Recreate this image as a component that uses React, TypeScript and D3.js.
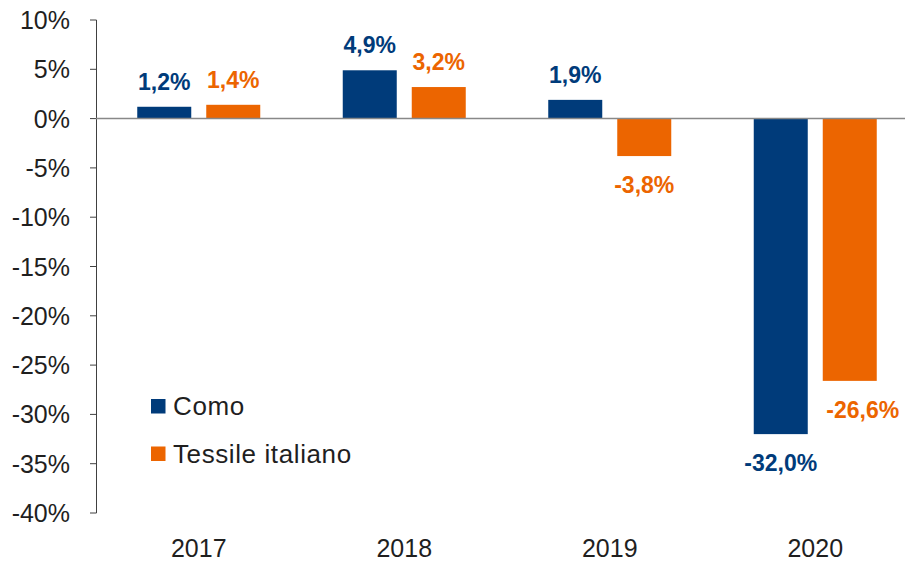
import React from "react";
import * as d3 from "d3";

const categories = ["2017", "2018", "2019", "2020"];
const seriesNames = ["Como", "Tessile italiano"];
const como = [1.2, 4.9, 1.9, -32.0];
const tessile = [1.4, 3.2, -3.8, -26.6];
const yTicks = [10, 5, 0, -5, -10, -15, -20, -25, -30, -35, -40];
const colors = ["#003b7a", "#ec6500"];
const labelNudge = [[0, 0, 0, 0], [0, 0, 0, 13]];

const W = 905;
const H = 562;
const FONT = "'Liberation Sans', Arial, sans-serif";

export default function App() {
  const x = d3.scaleBand().domain(categories).range([96, 918]).paddingInner(0).paddingOuter(0);
  const inner = d3.scaleBand().domain(seriesNames).range([41.25, 164.25]).paddingInner(15 / 69).paddingOuter(0);
  const y = d3.scaleLinear().domain([-40, 10]).range([513, 20]);
  const series = [como, tessile];
  const fmt = (v: number) => v.toFixed(1).replace(".", ",") + "%";

  return (
    <svg width={W} height={H} style={{ position: "absolute", left: 0, top: 0, background: "#fff" }} fontFamily={FONT}>
      {/* y axis */}
      <line x1={96.5} x2={96.5} y1={y(10)} y2={y(-40)} stroke="#404040" strokeWidth={1} />
      {yTicks.map((t) => (
        <g key={t}>
          <line x1={90} x2={96.5} y1={y(t)} y2={y(t)} stroke="#404040" strokeWidth={1} />
          <text x={70} y={y(t)} dy="0.36em" textAnchor="end" fontSize={25} fill="#1f1f1f">
            {t + "%"}
          </text>
        </g>
      ))}
      {/* bars */}
      {series.map((s, si) =>
        s.map((v, i) => {
          const bx = (x(categories[i]) as number) + (inner(seriesNames[si]) as number);
          const top = y(Math.max(0, v));
          const h = Math.abs(y(v) - y(0));
          const cx = bx + inner.bandwidth() / 2 + labelNudge[si][i];
          const ly = v >= 0 ? y(v) - 17 : y(v) + 37;
          return (
            <g key={si + "-" + i}>
              <rect x={bx} y={top} width={inner.bandwidth()} height={h} fill={colors[si]} />
              <text x={cx} y={ly} textAnchor="middle" fontSize={23} fontWeight="bold" fill={colors[si]}>
                {fmt(v)}
              </text>
            </g>
          );
        })
      )}
      {/* zero line */}
      <line x1={96} x2={W} y1={y(0)} y2={y(0)} stroke="#888" strokeWidth={1.5} />
      {/* category labels */}
      {categories.map((c) => (
        <text key={c} x={(x(c) as number) + x.bandwidth() / 2} y={557} textAnchor="middle" fontSize={25} fill="#1f1f1f">
          {c}
        </text>
      ))}
      {/* legend */}
      {seriesNames.map((n, i) => (
        <g key={n}>
          <rect x={151} y={399 + i * 47.5} width={14.5} height={14.5} fill={colors[i]} />
          <text x={173} y={415 + i * 47.5} fontSize={26} letterSpacing={0.6} fill="#1f1f1f">
            {n}
          </text>
        </g>
      ))}
    </svg>
  );
}
